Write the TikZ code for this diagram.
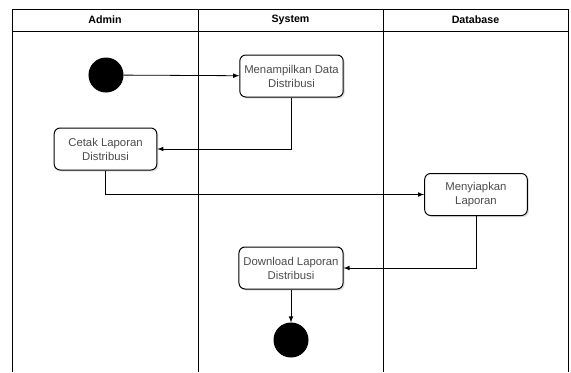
\documentclass[tikz,border=0pt]{standalone}
\usepackage{fontspec}
\setmainfont{Liberation Sans}
\usetikzlibrary{shadows}

\tikzset{every picture/.style={line width=0.75pt}}
\tikzset{
  actbox/.style={draw, rounded corners=4.5pt, fill=white, minimum width=77pt, minimum height=31.5pt,
    align=center, text=black!70, font=\fontsize{8.5}{10.5}\selectfont,
    drop shadow={shadow xshift=1.2pt, shadow yshift=-1.2pt, opacity=0.25}},
  dot/.style={circle, fill=black, draw, minimum size=25.5pt, inner sep=0pt},
  flow/.style={-latex, line width=0.6pt},
  lanehead/.style={font=\fontsize{8}{10}\selectfont\bfseries}
}

\begin{document}
\begin{tikzpicture}[x=0.75pt,y=0.75pt,yscale=-1,xscale=1]
\useasboundingbox (0,0) rectangle (571,372);

%Lanes
\draw [line width=0.6pt] (12,372) -- (12,9) -- (568,9) -- (568,372) ;
\draw [line width=0.6pt] (12,31) -- (568,31) ;
\draw [line width=0.6pt] (198,9) -- (198,372) ;
\draw [line width=0.6pt] (383,9) -- (383,372) ;
% Text Node
\node [lanehead] (admin) at (105,20) {Admin};
\node [lanehead] (system) at (290.5,20) {System};
\node [lanehead] (database) at (475.5,20) {Database};

%Start and end
\node [dot] (start) at (106,75) {};
\node [dot] (finish) at (291,340) {};

%Activities
\node [actbox] (tampil) at (291.5,76) {Menampilkan Data\\Distribusi};
\node [actbox] (cetak) at (105.5,149) {Cetak Laporan\\Distribusi};
\node [actbox] (siapkan) at (476,194.5) {Menyiapkan\\Laporan};
\node [actbox] (unduh) at (291,268) {Download Laporan\\Distribusi};

%Flows
\draw [flow] (start) -- (tampil) ;
\draw [flow] (tampil.south) |- (cetak.east) ;
\draw [flow] (cetak.south) |- (siapkan.west) ;
\draw [flow] (siapkan.south) |- (unduh.east) ;
\draw [flow] (unduh) -- (finish) ;

\end{tikzpicture}
\end{document}
